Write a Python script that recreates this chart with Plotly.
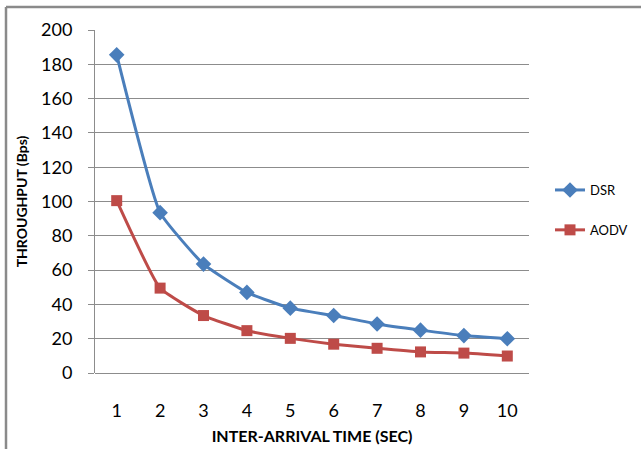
import plotly.graph_objects as go

categories = [1, 2, 3, 4, 5, 6, 7, 8, 9, 10]
dsr = [185.5, 93.5, 63.5, 47, 37.8, 33.5, 28.6, 25, 21.8, 20]
aodv = [100.5, 49.5, 33.5, 24.7, 20.2, 16.8, 14.4, 12.3, 11.6, 9.9]
y_ticks = [0, 20, 40, 60, 80, 100, 120, 140, 160, 180, 200]

W, H = 641, 449
L, R, T, B = 95, 112, 30, 76
pw, ph = W - L - R, H - T - B

def px_x(x):
    return (x - L) / pw

def px_y(y):
    return (H - B - y) / ph

fig = go.Figure()
fig.add_trace(go.Scatter(
    x=categories, y=dsr, name="DSR", mode="lines+markers",
    line=dict(color="#4A7EBB", width=3, shape="spline", smoothing=0.4),
    marker=dict(symbol="diamond", size=12, color="#4A7EBB"),
    legendgroup="a",
))
fig.add_trace(go.Scatter(
    x=categories, y=aodv, name="AODV", mode="lines+markers",
    line=dict(color="#BE4B48", width=3, shape="spline", smoothing=0.4),
    marker=dict(symbol="square", size=11, color="#BE4B48"),
    legendgroup="b",
))

fig.update_layout(
    width=W, height=H,
    margin=dict(l=L, r=R, t=T, b=B, autoexpand=False),
    paper_bgcolor="white", plot_bgcolor="white",
    font=dict(family="Lato", color="black"),
    showlegend=True,
    legend=dict(x=px_x(550), y=px_y(175), xanchor="left", yanchor="top",
                font=dict(size=13, family="Lato"), tracegroupgap=20,
                traceorder="grouped", bgcolor="rgba(0,0,0,0)"),
    xaxis=dict(
        range=[0.5, 10.5], tickvals=categories, ticktext=[str(c) for c in categories],
        showgrid=False, showline=False, zeroline=False, ticks="",
        tickfont=dict(size=18, family="Lato", color="black"),
        ticklabelstandoff=25,
        title=dict(text="<b>INTER-ARRIVAL TIME (SEC)</b>", font=dict(size=16, family="Lato"), standoff=10),
    ),
    yaxis=dict(
        range=[0, 200], tickvals=y_ticks,
        showgrid=True, gridcolor="#8C8C8C", gridwidth=1,
        showline=True, linecolor="#8C8C8C", linewidth=1,
        zeroline=True, zerolinecolor="#8C8C8C", zerolinewidth=1,
        ticks="outside", ticklen=6, tickcolor="#8C8C8C",
        tickfont=dict(size=18, family="Lato", color="black"),
        ticklabelstandoff=12,
        title=dict(text="<b>THROUGHPUT (Bps)</b>", font=dict(size=14, family="Lato"), standoff=10),
    ),
)

# outer chart border (top and left edges visible)
fig.add_shape(type="line", xref="paper", yref="paper",
              x0=px_x(6), x1=px_x(W + 5), y0=px_y(7), y1=px_y(7),
              line=dict(color="#8A8A8A", width=2.5))
fig.add_shape(type="line", xref="paper", yref="paper",
              x0=px_x(6), x1=px_x(6), y0=px_y(7), y1=px_y(H + 5),
              line=dict(color="#8A8A8A", width=2.5))

fig.write_html("out.html")
